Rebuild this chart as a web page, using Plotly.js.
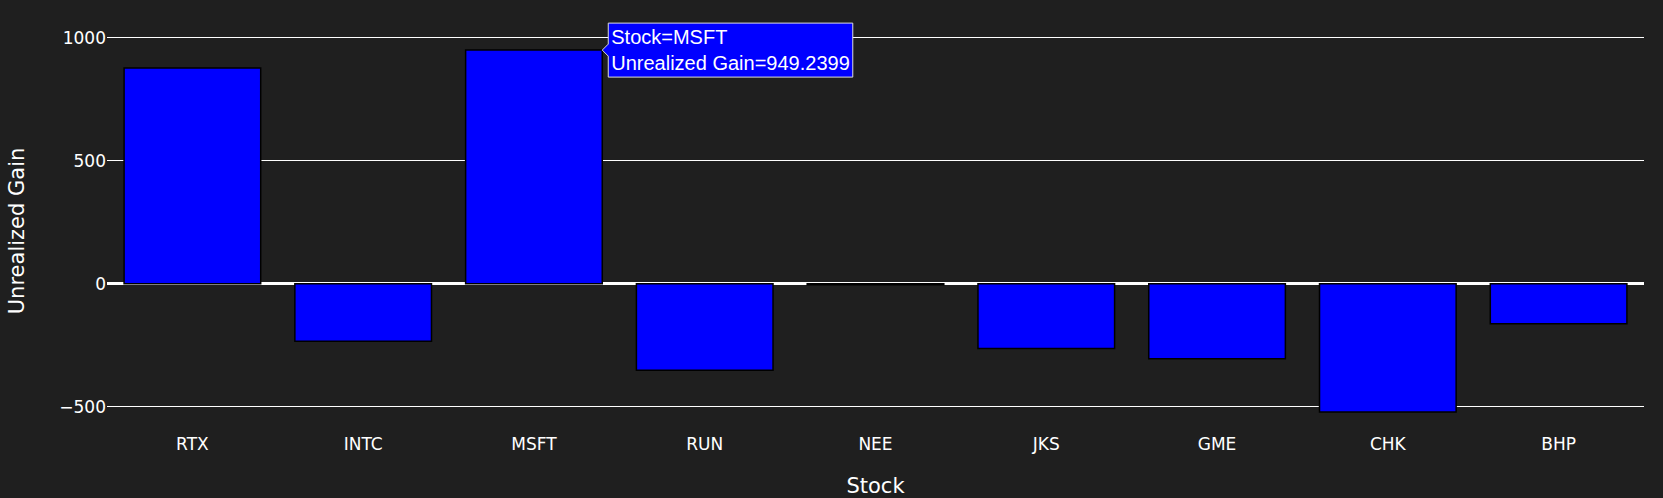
<!DOCTYPE html>
<html>
<head>
<meta charset="utf-8">
<script src="https://cdn.plot.ly/plotly-3.0.1.min.js"></script>
<style>html,body{margin:0;padding:0;background:#1f1f1f;}#chart{width:1663px;height:498px;}</style>
</head>
<body>
<div id="chart"></div>
<script>
const stocks = ["RTX", "INTC", "MSFT", "RUN", "NEE", "JKS", "GME", "CHK", "BHP"];
const unrealizedGain = [876, -234, 949.2399, -352, -4, -263, -305, -521, -163];
const yTickValues = [-500, 0, 500, 1000];

const trace = {
  type: 'bar',
  x: stocks,
  y: unrealizedGain,
  marker: {color: '#0000ff', line: {color: '#000000', width: 1.5}},
  hovertemplate: 'Stock=%{x}<br>Unrealized Gain=%{y}<extra></extra>',
  hoverlabel: {bgcolor: '#0000ff', bordercolor: '#dddddd', font: {family: 'Arial, Liberation Sans', size: 20, color: '#ffffff'}}
};

const layout = {
  width: 1663, height: 498,
  margin: {l: 107, r: 19, t: 30, b: 66},
  paper_bgcolor: '#1f1f1f',
  plot_bgcolor: '#1f1f1f',
  font: {family: 'DejaVu Sans, Verdana, sans-serif', size: 17, color: '#ffffff'},
  hovermode: 'closest',
  showlegend: false,
  bargap: 0.2,
  xaxis: {title: {text: 'Stock', font: {size: 21}}, showgrid: false, zeroline: false, showline: false, ticks: ''},
  yaxis: {title: {text: 'Unrealized Gain', font: {size: 21}, standoff: 28}, tickvals: yTickValues, gridcolor: '#ffffff', gridwidth: 1, zeroline: true, zerolinecolor: '#ffffff', zerolinewidth: 3, showline: false}
};

Plotly.newPlot('chart', [trace], layout, {displayModeBar: false}).then(function(gd){
  try {
    if (Plotly.Fx && Plotly.Fx.hover) {
      Plotly.Fx.hover(gd, [{curveNumber: 0, pointNumber: 2}]);
      return;
    }
  } catch (e) {}
  const fl = gd._fullLayout;
  const xa = fl.xaxis, ya = fl.yaxis;
  const px = xa._offset + xa.d2p('MSFT');
  const py = ya._offset + ya.d2p(unrealizedGain[2] * 0.95);
  const drag = gd.querySelector('.nsewdrag');
  const r = gd.getBoundingClientRect();
  const ev = new MouseEvent('mousemove', {bubbles: true, clientX: r.left + px, clientY: r.top + py});
  drag.dispatchEvent(ev);
});
</script>
</body>
</html>
